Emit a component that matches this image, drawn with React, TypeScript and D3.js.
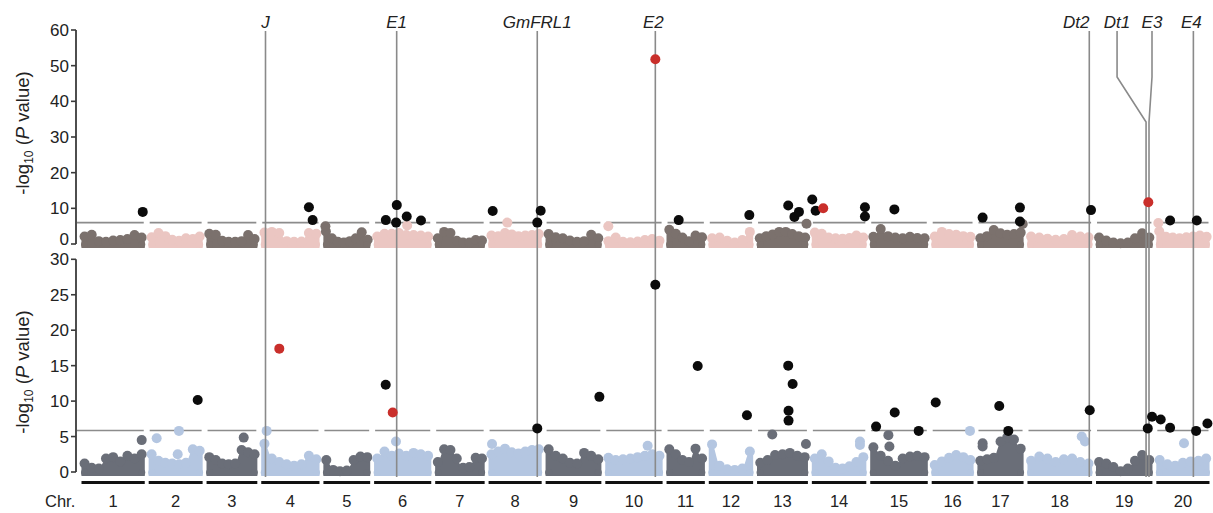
import React from 'react';
import * as d3 from 'd3';

// soybean chromosomes, lengths in Mb
const chromosomes = ['1', '2', '3', '4', '5', '6', '7', '8', '9', '10', '11', '12', '13', '14', '15', '16', '17', '18', '19', '20'];
const chrLengths = [56.83, 48.58, 45.78, 52.39, 42.23, 51.42, 44.63, 47.84, 50.19, 51.57, 34.77, 40.09, 45.87, 49.04, 51.76, 37.89, 41.64, 58.02, 50.75, 47.9];

const topTicks = [0, 10, 20, 30, 40, 50, 60];
const bottomTicks = [0, 5, 10, 15, 20, 25, 30];
const topThreshold = 6.0;
const bottomThreshold = 5.85;

// upper edge of the dense SNP cloud (-log10 P), read at evenly spaced spots along each chromosome
const topCloud = [
  [3.5, 4.0, 2.2, 2.0, 2.4, 2.5, 2.8, 3.9, 3.2],
  [3.3, 4.5, 3.6, 2.6, 2.3, 3.0, 2.8, 3.5],
  [4.3, 4.0, 2.3, 2.0, 2.0, 2.2, 3.9, 2.8],
  [4.6, 4.8, 4.5, 2.2, 2.0, 2.1, 4.5, 4.3],
  [4.9, 3.0, 2.0, 1.8, 2.2, 3.0, 4.7, 2.6],
  [3.5, 4.3, 4.3, 4.5, 3.9, 3.9, 3.8, 3.5],
  [3.0, 4.8, 4.5, 2.3, 1.8, 1.8, 2.5, 2.4],
  [3.8, 3.6, 4.5, 4.1, 3.6, 3.8, 3.9, 4.2],
  [4.2, 3.3, 3.0, 2.4, 2.0, 2.2, 4.0, 3.0],
  [2.2, 3.2, 2.0, 1.9, 2.1, 2.5, 2.8, 2.3],
  [5.4, 4.3, 3.2, 2.2, 3.8, 3.3],
  [3.0, 3.2, 2.3, 1.8, 2.5, 4.8],
  [3.0, 3.6, 4.1, 4.8, 4.8, 4.2, 3.6, 3.2],
  [4.6, 4.3, 3.2, 3.0, 2.9, 3.1, 3.8, 3.2],
  [3.4, 5.6, 3.6, 3.2, 3.0, 3.4, 3.1, 3.0],
  [3.5, 4.8, 4.2, 4.0, 3.6, 3.4],
  [3.0, 3.6, 5.3, 4.4, 4.0, 4.2, 4.6],
  [3.5, 3.2, 2.9, 2.6, 2.8, 3.9, 3.5, 3.3],
  [3.2, 2.4, 1.8, 1.6, 1.8, 3.0, 4.4, 3.2],
  [5.0, 3.4, 3.2, 3.0, 3.3, 3.5, 3.8, 3.4],
];

const bottomCloud = [
  [1.9, 1.3, 1.2, 2.6, 2.8, 2.2, 3.0, 2.6, 3.2],
  [3.2, 2.3, 2.0, 1.9, 1.8, 2.0, 3.9, 3.7],
  [2.8, 2.4, 1.9, 1.8, 1.9, 3.8, 3.5, 3.2],
  [4.7, 2.6, 2.1, 1.8, 1.6, 1.8, 3.0, 2.5],
  [2.4, 1.0, 0.8, 0.9, 2.4, 2.9, 2.8],
  [2.6, 3.6, 3.0, 3.3, 3.0, 3.4, 3.2, 3.0],
  [2.1, 3.9, 3.8, 2.6, 1.3, 1.4, 2.7, 2.6],
  [3.2, 3.6, 4.0, 3.5, 3.3, 3.6, 3.8, 3.9],
  [3.9, 3.0, 2.6, 2.0, 1.9, 3.4, 3.0, 2.5],
  [2.7, 2.4, 2.5, 2.6, 2.8, 3.0, 3.2, 3.0],
  [3.9, 3.2, 2.4, 2.1, 4.0, 2.6],
  [4.6, 1.6, 1.1, 1.0, 1.2, 3.6],
  [2.0, 2.4, 3.1, 3.2, 3.4, 3.0, 2.8],
  [2.6, 3.2, 2.2, 1.3, 1.2, 1.5, 2.1, 2.8],
  [4.2, 3.0, 2.3, 1.6, 2.6, 2.9, 3.0, 2.8],
  [1.7, 2.2, 2.7, 3.1, 2.8, 2.4],
  [2.3, 2.5, 2.7, 5.0, 5.6, 5.3, 4.0],
  [2.3, 2.9, 2.6, 2.1, 2.5, 2.6, 2.1, 1.9],
  [2.1, 1.9, 1.4, 0.8, 1.2, 2.3, 3.1, 2.4],
  [2.4, 1.8, 1.6, 2.0, 2.2, 2.3, 2.6],
];

// known loci: [name, chromosome, Mb]
const genes: [string, number, number][] = [
  ['J', 4, 4.2],
  ['E1', 6, 20.4],
  ['GmFRL1', 8, 43.5],
  ['E2', 10, 44.7],
  ['Dt2', 18, 55.1],
  ['Dt1', 19, 44.7],
  ['E3', 19, 47.3],
  ['E4', 20, 33.2],
];

// [chromosome, Mb, -log10 P]
const topSignificant: [number, number, number][] = [
  [1, 54.6, 9.0], [4, 42.6, 10.3], [4, 45.9, 6.7], [6, 10.8, 6.7], [6, 20.5, 10.9],
  [6, 19.9, 6.0], [6, 29.3, 7.7], [6, 41.9, 6.6], [8, 4.1, 9.25], [8, 46.5, 9.3],
  [8, 43.5, 6.0], [11, 11.2, 6.7], [12, 36.3, 8.1], [13, 28.0, 10.8], [13, 33.5, 7.6],
  [13, 37.5, 9.0], [14, 0.8, 12.5], [14, 3.8, 9.3], [14, 47.4, 10.3], [14, 47.4, 7.7],
  [15, 21.8, 9.7], [17, 5.0, 7.4], [17, 38.0, 10.2], [17, 38.0, 6.3], [18, 56.6, 9.5],
  [20, 12.6, 6.6], [20, 36.2, 6.6],
];
const topCandidates: [number, number, number][] = [
  [10, 44.7, 51.8], [14, 10.5, 10.0], [19, 46.7, 11.7],
];
const topOther: [number, number, number][] = [
  [5, 2.2, 5.0], [6, 29.7, 5.2], [8, 17.0, 6.0], [10, 3.1, 5.0], [13, 44.2, 5.7],
  [17, 40.5, 5.6], [20, 2.2, 5.9],
];

const bottomSignificant: [number, number, number][] = [
  [2, 43.8, 10.15], [6, 10.7, 12.3], [8, 43.5, 6.15], [9, 48.0, 10.6], [10, 44.7, 26.4],
  [11, 28.0, 14.95], [12, 34.2, 8.0], [13, 28.0, 15.0], [13, 31.9, 12.4], [13, 28.3, 8.65],
  [13, 28.3, 7.25], [15, 5.6, 6.4], [15, 22.1, 8.4], [15, 43.3, 5.8], [16, 4.0, 9.8],
  [17, 19.7, 9.3], [17, 27.7, 5.8], [18, 55.5, 8.7], [19, 46.2, 6.15], [19, 50.0, 7.8],
  [20, 4.3, 7.4], [20, 12.6, 6.25], [20, 35.6, 5.8], [20, 45.6, 6.85],
];
const bottomCandidates: [number, number, number][] = [
  [4, 16.4, 17.4], [6, 16.9, 8.4],
];
const bottomOther: [number, number, number][] = [
  [1, 53.7, 4.5], [2, 7.5, 4.75], [2, 27.2, 5.8], [2, 26.1, 2.5], [3, 33.3, 4.85],
  [4, 5.2, 5.8], [6, 19.8, 4.3], [8, 3.5, 3.95], [10, 37.9, 3.7], [13, 13.9, 5.3],
  [13, 43.7, 3.95], [14, 43.0, 4.3], [14, 43.0, 3.8], [15, 16.5, 5.2], [15, 17.4, 3.6],
  [16, 34.3, 5.8], [17, 5.0, 4.05], [17, 5.0, 3.6], [18, 48.4, 5.0], [18, 51.3, 4.3],
  [20, 24.9, 4.05],
];

const W = 1213;
const H = 513;
const FONT = 'Liberation Sans, Arial, Helvetica, sans-serif';
const gapMb = 2.6;
const R = 5;

const offsets = chrLengths.map((_, i) => d3.sum(chrLengths.slice(0, i)) + i * gapMb);
const totalMb = offsets[offsets.length - 1] + chrLengths[chrLengths.length - 1];
const x = d3.scaleLinear().domain([0, totalMb]).range([81, 1210]);
const gx = (chr: number, mb: number) => x(offsets[chr - 1] + mb);

const yTop = d3.scaleLinear().domain([0, 60]).range([244, 30]);
const yBottom = d3.scaleLinear().domain([0, 30]).range([472, 259.3]);

const palettes = {
  top: { dark: '#7b716d', light: '#ebc6c2' },
  bottom: { dark: '#6a6e78', light: '#b4c6e1' },
};

function Panel({ y, cloud, ticks, threshold, other, pal, titleY, zeroShift }: any) {
  const area = d3.area<[number, number]>()
    .x(d => x(d[0]))
    .y0(y(0) + 4)
    .y1(d => y(d[1]) + R)
    .curve(d3.curveMonotoneX);
  const [d0, d1] = y.domain();
  return (
    <g>
      {/* threshold, broken between chromosomes */}
      {chrLengths.map((len, i) => (
        <line key={'t' + i}
          x1={i === 0 ? 77 : x(offsets[i]) + 1.5} x2={x(offsets[i] + len) - 1.5}
          y1={y(threshold)} y2={y(threshold)}
          stroke="#8c8c8c" strokeWidth={1.6} />
      ))}
      {/* SNP clouds */}
      {cloud.map((h: number[], i: number) => {
        const len = chrLengths[i];
        const col = i % 2 === 0 ? pal.dark : pal.light;
        const pts: [number, number][] = h.map((v, k) => [offsets[i] + ((k + 0.5) / h.length) * len, v]);
        const edge: [number, number][] = [[offsets[i] + 0.4, h[0]], ...pts, [offsets[i] + len - 0.4, h[h.length - 1]]];
        return (
          <g key={'c' + i} fill={col}>
            <path d={area(edge) || ''} />
            {pts.map((p, k) => (
              <circle key={k} cx={x(p[0])} cy={y(p[1]) + R} r={R} />
            ))}
            <circle cx={x(offsets[i]) + 3.5} cy={y(0) + 0.5} r={3.5} />
            <circle cx={x(offsets[i] + len) - 3.5} cy={y(0) + 0.5} r={3.5} />
          </g>
        );
      })}
      {other.map((d: [number, number, number], k: number) => (
        <circle key={'o' + k} cx={gx(d[0], d[1])} cy={y(d[2])} r={R}
          fill={(d[0] - 1) % 2 === 0 ? pal.dark : pal.light} />
      ))}
      {/* y axis */}
      <line x1={76} x2={76} y1={y(d1)} y2={y(d0)} stroke="#3a3a3a" strokeWidth={1.8} />
      {ticks.map((t: number) => (
        <g key={'k' + t}>
          <line x1={71} x2={76} y1={y(t)} y2={y(t)} stroke="#3a3a3a" strokeWidth={1.6} />
          <text x={69} y={y(t) + 6 - (t === 0 ? zeroShift : 0)} textAnchor="end" fontSize={17} fontFamily={FONT} fill="#222">{t}</text>
        </g>
      ))}
      <text transform={`translate(29,${titleY}) rotate(-90)`} textAnchor="middle" fontSize={18.5} fontFamily={FONT} fill="#222">
        -log<tspan fontSize={12} dy={4}>10</tspan><tspan dy={-4}> (</tspan><tspan fontStyle="italic">P</tspan> value)
      </text>
    </g>
  );
}

// label offsets and elbows for the crowded loci on chr19
const labelDx: Record<string, number> = { Dt2: -13, Dt1: -29, E3: 3, E2: -2, E4: -2 };
const elbowTop = 77;
const elbowBottom = 122;

export default function App() {
  const lineTop = 31;
  const lineBottom = 477;
  const barY = 482.5;

  const geneLines = genes.map(([name, chr, mb]) => {
    const gxp = gx(chr, mb);
    const lx = gxp + (labelDx[name] || 0);
    const bent = name === 'Dt1' || name === 'E3';
    const d = bent
      ? `M${lx},${lineTop}V${elbowTop}L${gxp},${elbowBottom}V${lineBottom}`
      : `M${gxp},${lineTop}V${lineBottom}`;
    return { name, d, lx };
  });

  const panels = [
    { y: yTop, sig: topSignificant, cand: topCandidates },
    { y: yBottom, sig: bottomSignificant, cand: bottomCandidates },
  ];

  return (
    <svg width={W} height={H} style={{ position: 'absolute', left: 0, top: 0, background: '#fff' }}>
      <rect width={W} height={H} fill="#fff" />
      <Panel y={yTop} cloud={topCloud} ticks={topTicks} threshold={topThreshold}
        other={topOther} pal={palettes.top} titleY={133} zeroShift={5} />
      <Panel y={yBottom} cloud={bottomCloud} ticks={bottomTicks} threshold={bottomThreshold}
        other={bottomOther} pal={palettes.bottom} titleY={372} zeroShift={0} />
      {geneLines.map(g => (
        <g key={g.name}>
          <path d={g.d} fill="none" stroke="#8a8a8a" strokeWidth={1.6} />
          <text x={g.lx} y={28} textAnchor="middle" fontSize={17} fontStyle="italic" fontFamily={FONT} fill="#222">{g.name}</text>
        </g>
      ))}
      {panels.map((p, j) => (
        <g key={'h' + j}>
          {p.sig.map((d, k) => (
            <circle key={'s' + k} cx={gx(d[0], d[1])} cy={p.y(d[2])} r={R} fill="#0b0b0b" />
          ))}
          {p.cand.map((d, k) => (
            <circle key={'r' + k} cx={gx(d[0], d[1])} cy={p.y(d[2])} r={R} fill="#c92f2b" />
          ))}
        </g>
      ))}
      {/* chromosome bars and labels */}
      {chrLengths.map((len, i) => (
        <g key={'b' + i}>
          <line x1={x(offsets[i]) + 0.5} x2={x(offsets[i] + len) - 0.5} y1={barY} y2={barY} stroke="#111" strokeWidth={3} />
          <text x={x(offsets[i] + len / 2)} y={506.5} textAnchor="middle" fontSize={16.5} fontFamily={FONT} fill="#222">{chromosomes[i]}</text>
        </g>
      ))}
      <text x={45} y={506.5} fontSize={16.5} fontFamily={FONT} fill="#222">Chr.</text>
    </svg>
  );
}
